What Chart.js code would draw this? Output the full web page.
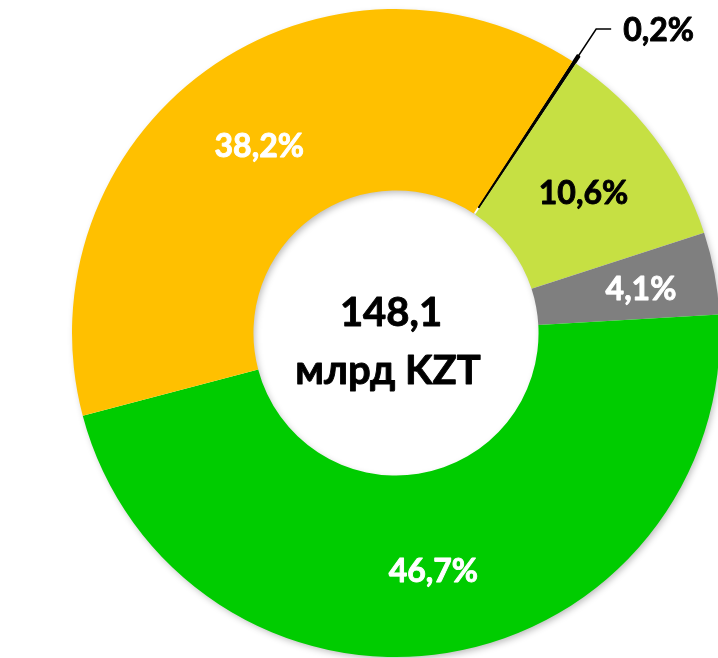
<!DOCTYPE html>
<html>
<head>
<meta charset="utf-8">
<script src="https://cdn.jsdelivr.net/npm/chart.js@4.4.1/dist/chart.umd.min.js"></script>
<style>
  html, body { margin: 0; padding: 0; background: #fff; overflow: hidden; width: 718px; height: 658px; }
  #wrap { position: absolute; left: 0; top: 0; width: 792px; height: 666px; }
</style>
</head>
<body>
<div id="wrap"><canvas id="chart"></canvas></div>
<script>
// data
const categories = ['Сегмент 1', 'Сегмент 2', 'Сегмент 3', 'Сегмент 4', 'Сегмент 5'];
const shares = [0.2, 10.6, 4.1, 46.7, 38.2];
const sliceColors = ['#000000', '#C6E043', '#7F7F7F', '#00CC00', '#FFC000'];
const labelColors = ['#000000', '#000000', '#FFFFFF', '#FFFFFF', '#FFFFFF'];
const centerLines = ['148,1', 'млрд KZT'];

const FONT = 'Lato, "Open Sans", sans-serif';
// extra radial push for a few labels (px)
const labelPush = [0, 2, 16, 5, 0];

const fmt = v => v.toFixed(1).replace('.', ',') + '%';

// draw text a little heavier
function boldText(ctx, text, x, y, color) {
    ctx.fillStyle = color;
    ctx.strokeStyle = color;
    ctx.lineWidth = 0.9;
    ctx.lineJoin = 'round';
    ctx.strokeText(text, x, y);
    ctx.fillText(text, x, y);
}

// soft shadow under the ring
const ringShadow = {
    id: 'ringShadow',
    beforeDatasetsDraw(chart) {
        const arc = chart.getDatasetMeta(0).data[1];
        if (!arc) return;
        const ctx = chart.ctx;
        ctx.save();
        ctx.shadowColor = 'rgba(0,0,0,0.28)';
        ctx.shadowBlur = 7;
        ctx.shadowOffsetX = 2;
        ctx.shadowOffsetY = 3;
        ctx.fillStyle = '#ffffff';
        ctx.beginPath();
        ctx.arc(arc.x, arc.y, arc.outerRadius - 1, 0, Math.PI * 2);
        ctx.arc(arc.x, arc.y, arc.innerRadius + 1, 0, Math.PI * 2, true);
        ctx.fill();
        ctx.restore();
    }
};

// slice labels + center text
const sliceLabels = {
    id: 'sliceLabels',
    afterDatasetsDraw(chart) {
        const ctx = chart.ctx;
        const meta = chart.getDatasetMeta(0);
        ctx.save();
        ctx.font = 'bold 32px ' + FONT;
        ctx.textBaseline = 'middle';
        meta.data.forEach((arc, i) => {
            const text = fmt(shares[i]);
            const mid = (arc.startAngle + arc.endAngle) / 2;
            if (i === 0) {
                // tiny slice: leader line to an outside label
                const r0 = arc.outerRadius + 2;
                const r1 = arc.outerRadius + 40;
                const x0 = arc.x + Math.cos(mid) * r0, y0 = arc.y + Math.sin(mid) * r0;
                const x1 = arc.x + Math.cos(mid) * r1, y1 = arc.y + Math.sin(mid) * r1;
                ctx.strokeStyle = '#000';
                ctx.lineWidth = 1.5;
                ctx.beginPath();
                ctx.moveTo(x0 - 8, y0 + 12);
                ctx.lineTo(x1, y1);
                ctx.lineTo(x1 + 15, y1);
                ctx.stroke();
                ctx.textAlign = 'left';
                boldText(ctx, text, x1 + 27, y1 + 2, labelColors[i]);
                return;
            }
            const p = arc.tooltipPosition();
            const x = p.x + Math.cos(mid) * labelPush[i];
            const y = p.y + Math.sin(mid) * labelPush[i] + 3;
            ctx.textAlign = 'center';
            boldText(ctx, text, x, y, labelColors[i]);
        });
        const c = meta.data[1];
        ctx.textAlign = 'center';
        ctx.font = 'bold 40px ' + FONT;
        boldText(ctx, centerLines[0], c.x - 5, c.y - 20, '#000');
        boldText(ctx, centerLines[1], c.x - 8, c.y + 38, '#000');
        ctx.restore();
    }
};

new Chart(document.getElementById('chart'), {
    type: 'doughnut',
    data: {
        labels: categories,
        datasets: [{
            data: shares,
            backgroundColor: sliceColors,
            borderColor: sliceColors,
            borderWidth: [1.5, 0, 0, 0, 0],
            offset: [16, 0, 0, 0, 0]
        }]
    },
    options: {
        responsive: true,
        maintainAspectRatio: false,
        animation: false,
        devicePixelRatio: 1,
        rotation: 33,
        radius: 324,
        cutout: '44%',
        layout: { padding: 0 },
        plugins: {
            legend: { display: false },
            tooltip: { enabled: false }
        }
    },
    plugins: [ringShadow, sliceLabels]
});
</script>
</body>
</html>
